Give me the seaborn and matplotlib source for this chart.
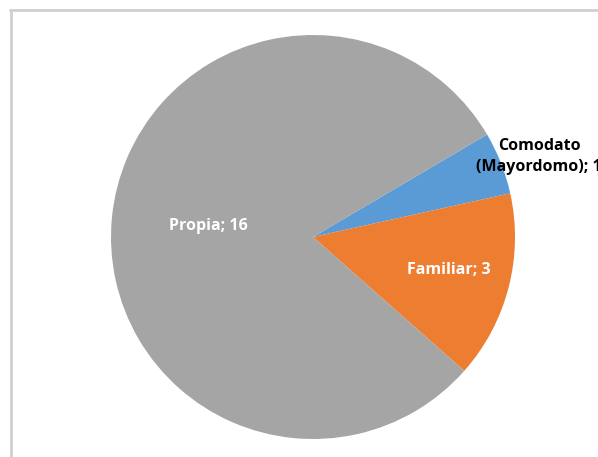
import matplotlib
matplotlib.use("Agg")
import matplotlib.pyplot as plt
import seaborn as sns
from matplotlib.lines import Line2D

categories = ["Comodato\n(Mayordomo)", "Familiar", "Propia"]
values = [1, 3, 16]
colors = ["#5B9BD5", "#ED7D31", "#A5A5A5"]

sns.set_style("white")
plt.rcParams["font.family"] = ["Open Sans", "DejaVu Sans"]

fig = plt.figure(figsize=(5.98, 4.57), dpi=100)
fig.patch.set_facecolor("white")

# chart frame (top and left edges visible)
fig.add_artist(Line2D([10 / 598, 1.0], [1 - 9.5 / 457] * 2, color="#D0D0D0", lw=2,
                      transform=fig.transFigure))
fig.add_artist(Line2D([10.5 / 598] * 2, [0.0, 1 - 9.5 / 457], color="#D0D0D0", lw=2,
                      transform=fig.transFigure))

ax = fig.add_axes([111 / 598, 18 / 457, 404 / 598, 404 / 457])
wedges, _ = ax.pie(values, colors=colors, startangle=30.5, counterclock=False,
                   radius=1.0, wedgeprops=dict(linewidth=0))
ax.set_xlim(-1, 1)
ax.set_ylim(-1, 1)
ax.set_aspect("equal")
ax.axis("off")

label_pos = [(1.12, 0.40), (0.67, -0.165), (-0.52, 0.055)]
label_colors = ["black", "white", "white"]
for cat, val, (x, y), c in zip(categories, values, label_pos, label_colors):
    ax.text(x, y, f"{cat}; {val}", ha="center", va="center", fontsize=11.5,
            fontweight="bold", color=c, linespacing=1.45, clip_on=False)

fig.savefig("out.png", dpi=100, facecolor="white")
